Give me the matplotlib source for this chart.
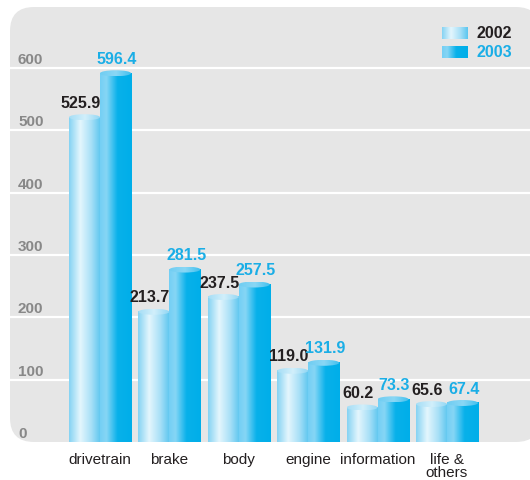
import matplotlib.pyplot as plt
from matplotlib.patches import FancyBboxPatch, Ellipse
import numpy as np

plt.rcParams['font.family'] = ['Liberation Sans', 'DejaVu Sans']

categories = ['drivetrain', 'brake', 'body', 'engine', 'information', 'life &\nothers']
vals_2002 = [525.9, 213.7, 237.5, 119.0, 60.2, 65.6]
vals_2003 = [596.4, 281.5, 257.5, 131.9, 73.3, 67.4]
series_names = ['2002', '2003']
yticks = [0, 100, 200, 300, 400, 500, 600]

# gradient stops (position, colour) for the cylinders
grad_2002 = [(0.0, '#86d3f3'), (0.35, '#e4f6fd'), (0.7, '#a8e0f7'), (1.0, '#5cc6ef')]
grad_2003 = [(0.0, '#74cff4'), (0.2, '#86d6f5'), (0.55, '#08b1ea'), (1.0, '#00aee9')]
cap_2002 = [(0.0, '#a5def6'), (0.5, '#d2effb'), (1.0, '#8fd6f4')]
cap_2003 = [(0.0, '#6fcdf2'), (0.5, '#8ad7f5'), (1.0, '#3fbfee')]
label_cols = ['#231f20', '#1aaee6']

W, H = 530, 481
px_per_unit = 0.6233  # pixels per value unit
group_px = 69.4
bar_w = 0.447


def make_grad(stops, n=64):
    pos = [s[0] for s in stops]
    rgb = np.array([plt.matplotlib.colors.to_rgb(s[1]) for s in stops])
    t = np.linspace(0, 1, n)
    out = np.stack([np.interp(t, pos, rgb[:, k]) for k in range(3)], axis=-1)
    return out[None, :, :]


fig = plt.figure(figsize=(W / 100, H / 100), dpi=100)
fig.patch.set_facecolor('white')

# rounded grey panel
panel = FancyBboxPatch((10 / 100, (H - 443) / 100), 530 / 100, 435 / 100,
                       boxstyle='round,pad=0,rounding_size=0.24',
                       transform=fig.dpi_scale_trans, facecolor='#e6e6e6',
                       edgecolor='none', zorder=-5)
fig.patches.append(panel)

ax = fig.add_axes([10 / W, (H - 443) / H, 520 / W, 435 / H])
ax.set_facecolor('none')
ax.set_zorder(1)
for s in ax.spines.values():
    s.set_visible(False)

for t in yticks[1:]:
    ax.axhline(t, color='white', lw=1.6, zorder=1)
for t in yticks:
    ax.text(8 / 520, t + 3, str(t), transform=ax.get_yaxis_transform(),
            ha='left', va='bottom', fontsize=11, fontweight='bold', color='#888888')

cap_h = 6 / px_per_unit


def draw_bar(x0, v, stops, cstops):
    x1 = x0 + bar_w
    ax.imshow(make_grad(stops), extent=[x0, x1, 0, v - cap_h / 2],
              aspect='auto', interpolation='bilinear', zorder=2)
    cap = Ellipse(((x0 + x1) / 2, v - cap_h / 2), bar_w, cap_h,
                  facecolor='none', edgecolor='none', zorder=3)
    ax.add_patch(cap)
    im = ax.imshow(make_grad(cstops), extent=[x0, x1, v - cap_h, v],
                   aspect='auto', interpolation='bilinear', zorder=3)
    im.set_clip_path(cap)


x = np.arange(len(categories))
for i in x:
    draw_bar(i - bar_w, vals_2002[i], grad_2002, cap_2002)
    draw_bar(i, vals_2003[i], grad_2003, cap_2003)
    ax.text(i - bar_w / 2 - 0.06, vals_2002[i] + 7, f'{vals_2002[i]:.1f}', ha='center',
            va='bottom', fontsize=11.5, fontweight='bold', color=label_cols[0], zorder=4)
    ax.text(i + bar_w / 2 + 0.02, vals_2003[i] + 7, f'{vals_2003[i]:.1f}', ha='center',
            va='bottom', fontsize=11.5, fontweight='bold', color=label_cols[1], zorder=4)

ax.set_xticks(x)
ax.set_xticklabels(categories, fontsize=11, color='#231f20', linespacing=0.95)
ax.tick_params(axis='x', length=0, pad=7)
ax.set_yticks([])


# legend drawn with gradient swatches
def px2data(px, py):
    return (px - 100) / group_px, (443 - py) / px_per_unit


for k, (stops, name) in enumerate(zip([grad_2002, grad_2003], series_names)):
    top = 28 + k * 19
    xa, ya = px2data(442, top + 12)
    xb, yb = px2data(468, top)
    ax.imshow(make_grad(stops), extent=[xa, xb, ya, yb], aspect='auto',
              interpolation='bilinear', zorder=3)
    tx, ty = px2data(477, top + 6)
    ax.text(tx, ty, name, ha='left', va='center', fontsize=11.5, fontweight='bold',
            color=label_cols[k], zorder=4)

ax.set_xlim(-90 / group_px, 430 / group_px)
ax.set_ylim(0, 435 / px_per_unit)
fig.savefig('out.png', dpi=100)
